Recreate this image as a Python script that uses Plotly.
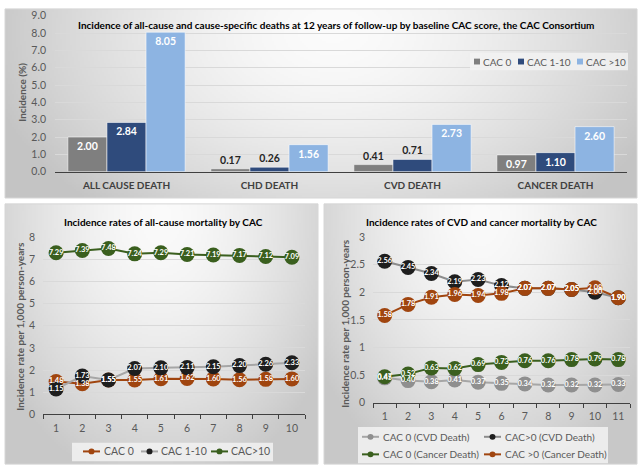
import base64
import struct
import zlib

import plotly.graph_objects as go

W, H = 640, 474
FONT = "Lato"

# ---- data -------------------------------------------------------------
causes = ["ALL CAUSE DEATH", "CHD DEATH", "CVD DEATH", "CANCER DEATH"]
bar_groups = ["CAC 0", "CAC 1-10", "CAC >10"]
inc_cac0 = [2.00, 0.17, 0.41, 0.97]
inc_cac1_10 = [2.84, 0.26, 0.71, 1.10]
inc_cac10 = [8.05, 1.56, 2.73, 2.60]

years_all = [1, 2, 3, 4, 5, 6, 7, 8, 9, 10]
all_cac0 = [1.48, 1.38, 1.55, 1.55, 1.61, 1.62, 1.60, 1.56, 1.58, 1.60]
all_cac1_10 = [1.15, 1.73, 1.55, 2.07, 2.10, 2.11, 2.15, 2.20, 2.26, 2.33]
all_cac10 = [7.29, 7.39, 7.48, 7.24, 7.29, 7.21, 7.19, 7.17, 7.12, 7.09]

years_cvd = [1, 2, 3, 4, 5, 6, 7, 8, 9, 10, 11]
cvd_cac0 = [0.45, 0.40, 0.38, 0.41, 0.37, 0.35, 0.34, 0.32, 0.32, 0.32, 0.33]
cvd_cacpos = [2.56, 2.45, 2.34, 2.19, 2.23, 2.12, 2.07, 2.07, 2.05, 2.00, 1.90]
cancer_cac0 = [0.47, 0.52, 0.63, 0.62, 0.69, 0.73, 0.76, 0.76, 0.78, 0.79, 0.78]
cancer_cacpos = [1.58, 1.78, 1.91, 1.96, 1.94, 1.98, 2.07, 2.07, 2.05, 2.08, 1.90]


def px(x):
    return x / W


def py(y):
    return 1 - y / H


def gradient_uri(w, h, cx, cy, rx, ry, light=250, dark=196, power=1.6):
    # small grayscale png, radial light spot -> darker edges
    rows = []
    for j in range(h):
        row = bytearray([0])
        for i in range(w):
            dx = ((i + 0.5) / w - cx) / rx
            dy = ((j + 0.5) / h - cy) / ry
            d = min(1.0, (dx * dx + dy * dy) ** 0.5)
            row.append(int(round(light - (light - dark) * d ** power)))
        rows.append(bytes(row))

    def chunk(tag, data):
        return (struct.pack(">I", len(data)) + tag + data
                + struct.pack(">I", zlib.crc32(tag + data) & 0xFFFFFFFF))

    png = (b"\x89PNG\r\n\x1a\n"
           + chunk(b"IHDR", struct.pack(">IIBBBBB", w, h, 8, 0, 0, 0, 0))
           + chunk(b"IDAT", zlib.compress(b"".join(rows), 9))
           + chunk(b"IEND", b""))
    return "data:image/png;base64," + base64.b64encode(png).decode()


fig = go.Figure()
shapes, ann = [], []

# ---- top: grouped bars -------------------------------------------------
bar_colors = ["#7f7f7f", "#2f4b7c", "#8db4e2"]
for name, vals, col in zip(bar_groups, [inc_cac0, inc_cac1_10, inc_cac10], bar_colors):
    inside = [v >= 0.9 for v in vals]
    fig.add_trace(go.Bar(
        x=causes, y=vals, name=name, xaxis="x", yaxis="y",
        marker=dict(color=col, line=dict(color="rgba(255,255,255,0.55)", width=1)),
        text=[f"{v:.2f}" for v in vals],
        textposition=["inside" if i else "outside" for i in inside],
        insidetextanchor="end",
        textfont=dict(family=FONT, size=10.5, weight="bold",
                      color=["white" if i else "#262626" for i in inside]),
        constraintext="none", cliponaxis=False, showlegend=False,
    ))

# ---- line panels -------------------------------------------------------
ORANGE = "#a0450f"
GREEN = "#3a5f1e"
BLACK = "#1e1e1e"
GRAY = "#8f8f8f"
LGRAY = "#a6a6a6"


def add_series(xs, ys, name, mcol, lcol, xa, ya):
    fig.add_trace(go.Scatter(
        x=xs, y=ys, mode="lines+markers", name=name, xaxis=xa, yaxis=ya,
        showlegend=False, line=dict(color=lcol, width=2),
        marker=dict(color=mcol, size=15), hoverinfo="skip", cliponaxis=False,
    ))


def add_labels(xs, ys, xa, ya):
    # data labels sit on top of every series' markers, like the source
    fig.add_trace(go.Scatter(
        x=xs, y=ys, mode="text", text=[f"{v:.2f}" for v in ys], xaxis=xa, yaxis=ya,
        textfont=dict(family=FONT, size=7.5, weight="bold", color="white"),
        showlegend=False, hoverinfo="skip", cliponaxis=False,
    ))


left = [("CAC 0", all_cac0, ORANGE, ORANGE),
        ("CAC 1-10", all_cac1_10, BLACK, LGRAY),
        ("CAC>10", all_cac10, GREEN, GREEN)]
for name, ys, mc, lc in left:
    add_series(years_all, ys, name, mc, lc, "x2", "y2")
for name, ys, mc, lc in left:
    add_labels(years_all, ys, "x2", "y2")

right = [("CAC 0 (CVD Death)", cvd_cac0, GRAY, LGRAY),
         ("CAC>0 (CVD Death)", cvd_cacpos, BLACK, "#8c8c8c"),
         ("CAC 0 (Cancer Death)", cancer_cac0, GREEN, GREEN),
         ("CAC >0 (Cancer Death)", cancer_cacpos, ORANGE, ORANGE)]
for name, ys, mc, lc in right:
    add_series(years_cvd, ys, name, mc, lc, "x3", "y3")
for name, ys, mc, lc in right:
    add_labels(years_cvd, ys, "x3", "y3")

# ---- panels (gradient backgrounds + frames) ----------------------------
panels = [(5, 3, 637, 197), (5, 203, 318, 470), (324, 203, 637, 470)]
images = []
for i, (x0, y0, x1, y1) in enumerate(panels):
    w, h = x1 - x0, y1 - y0
    if i == 0:
        uri = gradient_uri(w // 2, h // 2, 0.52, 0.12, 0.56, 1.25, 251, 196)
    else:
        uri = gradient_uri(w // 2, h // 2, 0.5, 0.05, 0.62, 1.05, 250, 200)
    images.append(dict(source=uri, xref="paper", yref="paper", x=px(x0), y=py(y0),
                       sizex=px(w), sizey=h / H, xanchor="left", yanchor="top",
                       sizing="stretch", layer="below"))
    shapes.append(dict(type="rect", xref="paper", yref="paper", x0=px(x0), x1=px(x1),
                       y0=py(y1), y1=py(y0), line=dict(color="#d6d6d6", width=1),
                       fillcolor="rgba(0,0,0,0)", layer="below"))

# ---- legends (drawn by hand to keep Excel's compact look) --------------
TXT = "#595959"


def leg_box(x0, y0, x1, y1):
    shapes.append(dict(type="rect", xref="paper", yref="paper", x0=px(x0), x1=px(x1),
                       y0=py(y1), y1=py(y0), line=dict(width=0),
                       fillcolor="rgba(242,242,242,0.85)"))


def leg_text(tx, cy, text, size=10):
    ann.append(dict(text=text, x=px(tx), y=py(cy), xref="paper", yref="paper",
                    xanchor="left", yanchor="middle", showarrow=False,
                    font=dict(family=FONT, size=size, color=TXT)))


def leg_square(cx, cy, color, text, tx):
    shapes.append(dict(type="rect", xref="paper", yref="paper", x0=px(cx - 3), x1=px(cx + 3),
                       y0=py(cy + 3), y1=py(cy - 3), line=dict(width=0), fillcolor=color))
    leg_text(tx, cy, text)


def leg_line(x0, x1, cy, lcol, mcol, text, tx, size=10.5):
    shapes.append(dict(type="line", xref="paper", yref="paper", x0=px(x0), x1=px(x1),
                       y0=py(cy), y1=py(cy), line=dict(color=lcol, width=2)))
    cx = (x0 + x1) / 2
    shapes.append(dict(type="circle", xref="paper", yref="paper", x0=px(cx - 3), x1=px(cx + 3),
                       y0=py(cy + 3), y1=py(cy - 3), line=dict(width=0), fillcolor=mcol))
    leg_text(tx, cy, text, size)


leg_box(470, 48, 628, 66)
for (cx, tx), name, col in zip([(477, 481), (521, 525), (580, 584)], bar_groups, bar_colors):
    leg_square(cx, 57, col, name, tx)

leg_box(72, 448, 273, 467)
for (x0, tx), (name, ys, mc, lc) in zip([(83, 102), (141, 159), (211, 229)], left):
    leg_line(x0, x0 + 17, 457, lc, mc, name, tx)

leg_box(358, 432, 608, 469)
spots = [(362, 442, 381), (484, 442, 503), (362, 460, 381), (484, 460, 503)]
for (x0, cy, tx), (name, ys, mc, lc) in zip(spots, right):
    leg_line(x0, x0 + 17, cy, lc, mc, name, tx, 10)

# ---- titles ------------------------------------------------------------
titles = [
    ("Incidence of all-cause and cause-specific deaths at 12 years of follow-up by baseline CAC score, the CAC Consortium", 336, 20),
    ("Incidence rates of all-cause mortality by CAC", 163, 222),
    ("Incidence rates of CVD and cancer mortality by CAC", 481, 222),
]
for t, x, y in titles:
    ann.append(dict(text=t, x=px(x), y=py(y), xref="paper", yref="paper", showarrow=False,
                    xanchor="center", yanchor="middle",
                    font=dict(family=FONT, size=10, weight="bold", color="#000000")))
ytitles = [("Incidence (%)", 22, 89), ("Incidence rate per 1,000 person-years", 20, 329),
           ("Incidence rate per 1,000 person-years", 345, 326)]
for t, x, y in ytitles:
    ann.append(dict(text=t, x=px(x), y=py(y), xref="paper", yref="paper", showarrow=False,
                    xanchor="center", yanchor="middle", textangle=-90,
                    font=dict(family=FONT, size=10, weight="bold", color=TXT)))

grid = "#d9d9d9"
tickfont = dict(family=FONT, size=10.5, color=TXT)

fig.update_layout(
    width=W, height=H, margin=dict(l=0, r=0, t=0, b=0),
    paper_bgcolor="white", plot_bgcolor="rgba(0,0,0,0)",
    font=dict(family=FONT, color=TXT), showlegend=False,
    barmode="group", bargap=0.18, bargroupgap=0,
    images=images, shapes=shapes, annotations=ann,
    xaxis=dict(domain=[px(55), px(627)], anchor="y", type="category",
               showline=True, linecolor="#404040", linewidth=1.2, ticks="",
               tickfont=dict(family=FONT, size=10, weight="bold", color="#404040"),
               ticklabelstandoff=4, fixedrange=True),
    yaxis=dict(domain=[py(170), py(10)], anchor="x", range=[0, 9], dtick=1,
               tickformat=".1f", showgrid=True, gridcolor=grid, zeroline=False,
               tickfont=tickfont, ticklabelstandoff=8),
    xaxis2=dict(domain=[px(43), px(305)], anchor="y2", range=[0.5, 10.5],
                tickvals=years_all, showline=True, linecolor="#404040", linewidth=1.2,
                showgrid=False, zeroline=False, ticks="", ticklabelstandoff=4,
                minor=dict(tickvals=[v - 0.5 for v in years_all] + [10.5], ticks="outside",
                           ticklen=4, tickcolor="#404040", showgrid=False),
                tickfont=tickfont),
    yaxis2=dict(domain=[py(419), py(237)], anchor="x2", range=[0, 8], dtick=1,
                showgrid=True, gridcolor=grid, zeroline=False, tickfont=tickfont,
                ticklabelstandoff=7),
    xaxis3=dict(domain=[px(373), px(630)], anchor="y3", range=[0.5, 11.5],
                tickvals=years_cvd, showline=True, linecolor="#404040", linewidth=1.2,
                showgrid=False, zeroline=False, ticks="", ticklabelstandoff=4,
                minor=dict(tickvals=[v - 0.5 for v in years_cvd] + [11.5], ticks="outside",
                           ticklen=4, tickcolor="#404040", showgrid=False),
                tickfont=tickfont),
    yaxis3=dict(domain=[py(407), py(237)], anchor="x3", range=[0, 3], dtick=0.5,
                showgrid=True, gridcolor=grid, zeroline=False, tickfont=tickfont,
                ticklabelstandoff=7),
)

fig.write_html("out.html", config={"displayModeBar": False},
               post_script="document.body.style.margin='0px';")
